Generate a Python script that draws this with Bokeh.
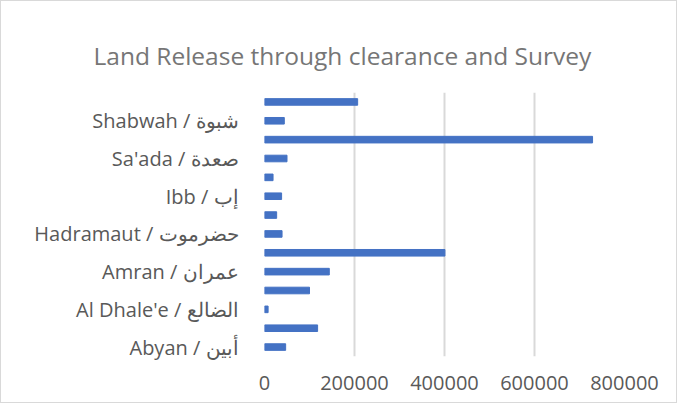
from bokeh.plotting import figure
from bokeh.models import ColumnDataSource, FixedTicker, Range1d
from bokeh.embed import file_html
from bokeh.resources import INLINE

# Data (bottom to top)
governorates = ["Abyan / أبين", "Aden / عدن", "Al Dhale'e / الضالع", "Al Hudaydah / الحديدة",
                "Amran / عمران", "Dhamar / ذمار", "Hadramaut / حضرموت", "Hajjah / حجة",
                "Ibb / إب", "Lahj / لحج", "Sa'ada / صعدة", "Sana'a / صنعاء",
                "Shabwah / شبوة", "Taiz / تعز"]
released = [47000, 118000, 8000, 100000, 144000, 401000, 39000, 27000,
            38000, 19000, 50000, 729000, 44000, 207000]
x_ticks = [0, 200000, 400000, 600000, 800000]
chart_title = "Land Release through clearance and Survey"

pos = list(range(len(governorates)))
src = ColumnDataSource(dict(y=pos, v=released, name=governorates))

TEXT = "#595959"
TITLE = "#767676"
GRID = "#d9d9d9"
FONT = "Open Sans"

p = figure(width=677, height=403, output_backend="svg", toolbar_location=None,
           x_range=Range1d(0, 800000), y_range=Range1d(-0.5, len(pos) - 0.5),
           min_border_left=263, min_border_right=54, min_border_top=91, min_border_bottom=48,
           title=chart_title)
p.styles = {"border": "1px solid #d9d9d9"}

p.hbar(y="y", right="v", left=0, height=0.35, source=src, color="#4472C4")

p.title.align = "left"
p.title.offset = -171
p.title.text_font = FONT
p.title.text_font_size = "24.5px"
p.title.text_font_style = "normal"
p.title.text_color = TITLE
p.title.vertical_align = "top"
p.title.standoff = 38

p.outline_line_color = None
p.background_fill_color = "white"
p.border_fill_color = "white"

p.ygrid.grid_line_color = None
p.xgrid.ticker = FixedTicker(ticks=x_ticks)
p.xgrid.grid_line_color = GRID
p.xgrid.grid_line_width = 2

p.xaxis.ticker = FixedTicker(ticks=x_ticks)
p.xaxis.axis_line_color = None
p.xaxis.major_tick_line_color = None
p.xaxis.minor_tick_line_color = None
p.xaxis.major_label_text_font = FONT
p.xaxis.major_label_text_font_size = "20px"
p.xaxis.major_label_text_color = TEXT
p.xaxis.major_label_standoff = 13
p.xaxis.formatter.use_scientific = False

labeled = [i for i in pos if i % 2 == 0]
p.yaxis.ticker = FixedTicker(ticks=labeled)
p.yaxis.major_label_overrides = {i: governorates[i] for i in labeled}
p.yaxis.axis_line_color = None
p.yaxis.major_tick_line_color = None
p.yaxis.minor_tick_line_color = None
p.yaxis.major_label_text_font = FONT
p.yaxis.major_label_text_font_size = "20px"
p.yaxis.major_label_text_color = TEXT
p.yaxis.major_label_standoff = 20

open("out.html", "w").write(file_html(p, INLINE))
